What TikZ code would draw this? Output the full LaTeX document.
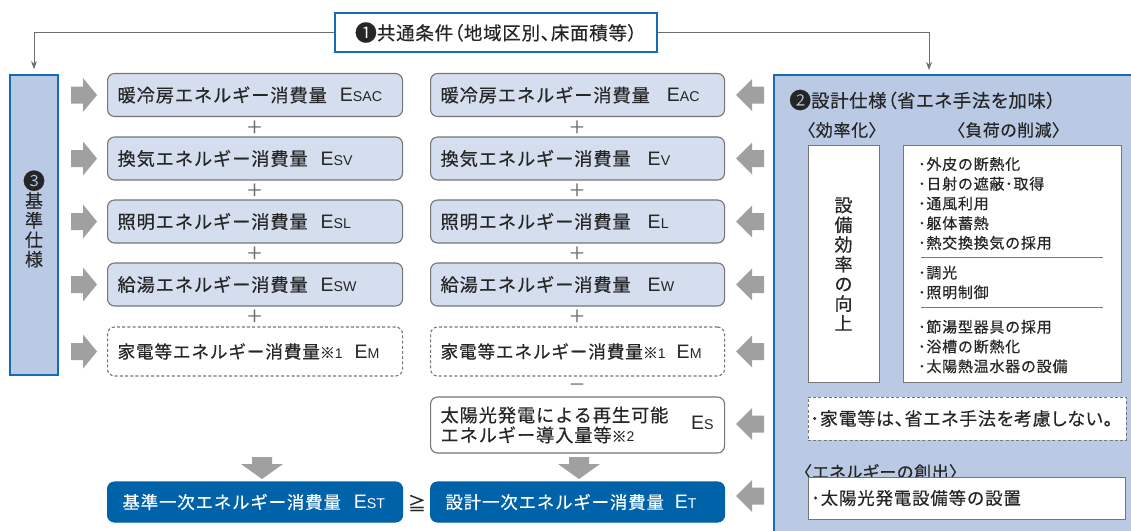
\documentclass[tikz,border=0pt]{standalone}
\usepackage{fontspec}
\setmainfont{Noto Sans CJK JP}[LetterSpace=5,FakeBold=0.4]
\newfontfamily\jpp{Noto Sans CJK JP}[LetterSpace=4,FakeBold=0.4,RawFeature=+palt]
\newfontfamily\lat{Liberation Sans}
\usetikzlibrary{arrows.meta}
\definecolor{txt}{RGB}{38,38,38}
\definecolor{boxfill}{RGB}{212,222,239}
\definecolor{panelfill}{RGB}{186,202,229}
\definecolor{bluebd}{RGB}{22,108,180}
\definecolor{darkblue}{RGB}{0,98,168}
\definecolor{arrowgray}{RGB}{160,160,160}
\definecolor{bdgray}{RGB}{118,118,118}
\definecolor{linegray}{RGB}{110,110,110}
\newcommand{\fs}[1]{\fontsize{#1}{#1}\selectfont}
\newcommand{\El}[1]{{\lat\fs{19.5}E\fs{14.2}#1}}
\newcommand{\Nt}[1]{{\fs{15}※\lat\fs{14}#1}}
\newcommand{\Cn}[1]{{\fs{22}\raisebox{-1pt}{#1}}}
\newcommand{\RA}[1]{\fill[arrowgray] (71,#1) ++(0,-8.5) -- ++(12,0) -- ++(0,-8.5) -- ++(14,17) -- ++(-14,17) -- ++(0,-8.5) -- ++(-12,0) -- cycle;}
\newcommand{\LA}[1]{\fill[arrowgray] (736,#1) -- ++(16,-16) -- ++(0,7.5) -- ++(12,0) -- ++(0,17) -- ++(-12,0) -- ++(0,7.5) -- cycle;}
\newcommand{\DA}[1]{\fill[arrowgray] (#1,457) ++(-10,0) -- ++(20,0) -- ++(0,7) -- ++(11,0) -- ++(-21,15) -- ++(-21,-15) -- ++(11,0) -- cycle;}
\begin{document}
\begin{tikzpicture}[x=1pt,y=-1pt,
  every node/.style={text=txt, inner sep=0pt},
  ebox/.style={draw=bdgray, line width=1.1pt, rounded corners=7pt, fill=boxfill, minimum height=43pt, inner xsep=10pt, anchor=west, font=\fs{18.2}},
  dbox/.style={ebox, fill=white, dash pattern=on 3pt off 2.2pt, minimum height=49pt, font=\fs{17.6}},
  wbox/.style={ebox, fill=white, minimum height=56pt},
  bbox/.style={ebox, draw=darkblue, fill=darkblue, text=white, minimum height=40pt, inner xsep=15pt, font=\fs{17.4}},
  op/.style={font=\fs{17}, text=linegray},
  conn/.style={draw=linegray, line width=0.9pt, -{Stealth[length=8pt,width=6pt]}, shorten >=5pt},
  pbox/.style={draw=bdgray, line width=1pt, fill=white},
]
\clip (0,0) rectangle (1131,530);
\fill[white] (0,0) rectangle (1131,530);

% right panel
\fill[panelfill] (774,75) rectangle (1140,540);
\draw[bluebd, line width=2pt] (774,540) -- (774,75) -- (1140,75);
\coordinate (pn) at (929,75);

% top box and connectors
\node[draw=bluebd, line width=1.5pt, fill=white, minimum width=322pt, minimum height=39pt, font=\jpp\fs{18.5}] (top) at (496,32.5) {\Cn{❶}共通条件（地域区別、床面積等）};

% left blue box
\node[draw=bluebd, fill=panelfill, line width=1.8pt, minimum width=48pt, minimum height=300pt] (lb) at (34,225) {};
\node[align=center, font=\fontsize{18}{19.5}\selectfont] (lbt) at (34,219) {\Cn{❸}\\基\\準\\仕\\様};

\draw[conn] (top.west) -| (lb.north);
\draw[conn] (top.east) -| (pn);

% left column
\node[ebox] (l1) at (107,95) {\makebox[275pt][l]{暖冷房エネルギー消費量\hspace{13pt}\El{SAC}}};
\node[ebox] (l2) at (107,158.5) {\makebox[275pt][l]{換気エネルギー消費量\hspace{13pt}\El{SV}}};
\node[ebox] (l3) at (107,221.5) {\makebox[275pt][l]{照明エネルギー消費量\hspace{13pt}\El{SL}}};
\node[ebox] (l4) at (107,284.5) {\makebox[275pt][l]{給湯エネルギー消費量\hspace{13pt}\El{SW}}};
\node[dbox] (l5) at (107,351.5) {\makebox[275pt][l]{家電等エネルギー消費量\Nt{1}\hspace{12pt}\El{M}}};
\node[bbox] (l7) at (107,502) {\makebox[265pt][l]{基準一次エネルギー消費量\hspace{13pt}\El{ST}}};
\node[op] (lp1) at (254.5,127) {＋};
\node[op] (lp2) at (254.5,190) {＋};
\node[op] (lp3) at (254.5,253) {＋};
\node[op] (lp4) at (254.5,316) {＋};

% middle column
\node[ebox] (m1) at (430,95) {\makebox[274pt][l]{暖冷房エネルギー消費量\hspace{17pt}\El{AC}}};
\node[ebox] (m2) at (430,158.5) {\makebox[274pt][l]{換気エネルギー消費量\hspace{17pt}\El{V}}};
\node[ebox] (m3) at (430,221.5) {\makebox[274pt][l]{照明エネルギー消費量\hspace{17pt}\El{L}}};
\node[ebox] (m4) at (430,284.5) {\makebox[274pt][l]{給湯エネルギー消費量\hspace{17pt}\El{W}}};
\node[dbox] (m5) at (430,351.5) {\makebox[274pt][l]{家電等エネルギー消費量\Nt{1}\hspace{11pt}\El{M}}};
\node[wbox] (m6) at (430,425) {\makebox[274pt][s]{\parbox[c]{240pt}{\fontsize{18.2}{20}\selectfont 太陽光発電による再生可能\\エネルギー導入量等\Nt{2}}\hfill\El{S}\hspace{1pt}}};
\node[bbox] (m7) at (430,502) {\makebox[264pt][l]{設計一次エネルギー消費量\hspace{11pt}\El{T}}};
\node[op] (mp1) at (577,127) {＋};
\node[op] (mp2) at (577,190) {＋};
\node[op] (mp3) at (577,253) {＋};
\node[op] (mp4) at (577,316) {＋};
\node[op] (mm) at (577,387) {－};

\node[font=\fs{18}] (ge) at (417,503) {≧};

% block arrows
\RA{95} \RA{158.5} \RA{221.5} \RA{284.5} \RA{351.5}
\LA{95} \LA{158.5} \LA{221.5} \LA{284.5} \LA{351.5} \LA{424} \LA{496}
\DA{262} \DA{579}

% panel contents
\node[anchor=west, font=\jpp\fs{18.3}] (t2) at (789,100) {\Cn{❷}設計仕様（省エネ手法を加味）};
\node[font=\jpp\fs{17}] (h1) at (842,130) {〈効率化〉};
\node[font=\jpp\fs{16.8}] (h2) at (1008.5,130) {〈負荷の削減〉};
\node[pbox, minimum width=71pt, minimum height=237pt] (b1) at (843.5,263.5) {};
\node[align=center, font=\fontsize{18}{19.7}\selectfont] (v1) at (843.5,264) {設\\備\\効\\率\\の\\向\\上};
\node[pbox, minimum width=218pt, minimum height=237pt] (b2) at (1012,263.5) {};
\node[anchor=west, align=left, font=\fontsize{15}{19.7}\selectfont] (g1) at (918,203.5) {･外皮の断熱化\\･日射の遮蔽･取得\\･通風利用\\･躯体蓄熱\\･熱交換換気の採用};
\draw[bdgray, line width=0.8pt] (921,257) -- (1103,257);
\node[anchor=west, align=left, font=\fontsize{15}{19.7}\selectfont] (g2) at (918,282.5) {･調光\\･照明制御};
\draw[bdgray, line width=0.8pt] (921,307) -- (1103,307);
\node[anchor=west, align=left, font=\fontsize{15}{19.7}\selectfont] (g3) at (918,346.5) {･節湯型器具の採用\\･浴槽の断熱化\\･太陽熱温水器の設備};
\node[pbox, dash pattern=on 3pt off 2.2pt, minimum width=318pt, minimum height=43pt] (b3) at (967,418.5) {};
\node[anchor=west, font=\jpp\fs{18}] (t3) at (810,418.5) {･家電等は、省エネ手法を考慮しない。};
\node[anchor=west, font=\jpp\fs{17}] (h3) at (803,472) {〈エネルギーの創出〉};
\node[pbox, minimum width=317pt, minimum height=42pt] (b4) at (966.5,498) {};
\node[anchor=west, font=\fs{17.4}] (t4) at (811,498) {･太陽光発電設備等の設置};
\end{tikzpicture}
\end{document}
